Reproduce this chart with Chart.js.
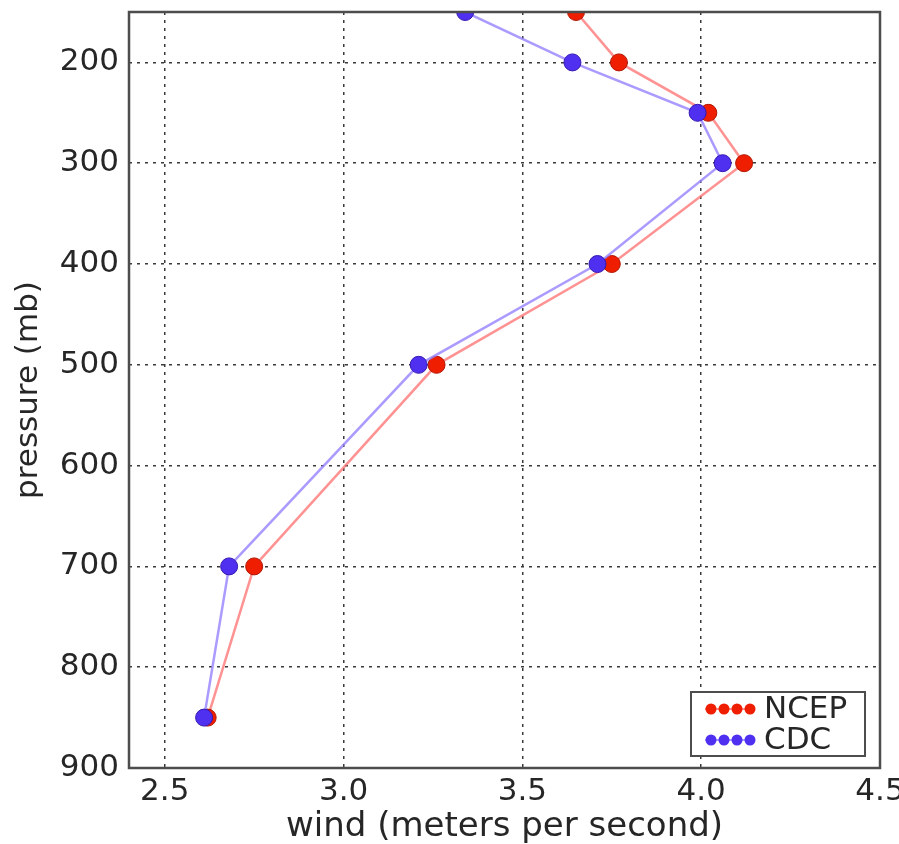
<!DOCTYPE html>
<html><head><meta charset="utf-8">
<script src="https://cdn.jsdelivr.net/npm/chart.js@4"></script>
<style>html,body{margin:0;padding:0;background:#fff;} canvas{display:block;}</style>
</head><body>
<canvas id="c" width="899" height="844"></canvas>
<script>
const pressureLevels = [150, 200, 250, 300, 400, 500, 700, 850];
const ncepWind = [3.65, 3.77, 4.02, 4.12, 3.75, 3.26, 2.75, 2.62];
const cdcWind  = [3.34, 3.64, 3.99, 4.06, 3.71, 3.21, 2.68, 2.61];
const xTickValues = [2.5, 3.0, 3.5, 4.0, 4.5];
const yTickValues = [200, 300, 400, 500, 600, 700, 800, 900];
const seriesNames = ['NCEP', 'CDC'];

const FONT = "'DejaVu Sans', 'Bitstream Vera Sans', sans-serif";
const TXT = '#262626';

const toPoints = (xs) => xs.map((v, i) => ({x: v, y: pressureLevels[i]}));

const framePlugin = {
  id: 'frame',
  afterDatasetsDraw(chart) {
    const {ctx, chartArea: a} = chart;
    ctx.save();
    ctx.strokeStyle = '#4d4d4d';
    ctx.lineWidth = 2.5;
    ctx.strokeRect(a.left, a.top, a.right - a.left, a.bottom - a.top);
    ctx.restore();
  }
};

const legendPlugin = {
  id: 'boxLegend',
  afterDraw(chart) {
    const {ctx, chartArea: a} = chart;
    const w = 174, h = 64;
    const x0 = a.right - 15 - w, y0 = a.bottom - 12 - h;
    ctx.save();
    ctx.fillStyle = '#fff';
    ctx.fillRect(x0, y0, w, h);
    ctx.strokeStyle = '#4d4d4d';
    ctx.lineWidth = 2;
    ctx.strokeRect(x0, y0, w, h);
    chart.data.datasets.forEach((ds, i) => {
      const cy = y0 + 17 + i * 31;
      ctx.strokeStyle = ds.borderColor;
      ctx.lineWidth = 2;
      ctx.beginPath(); ctx.moveTo(x0 + 14, cy); ctx.lineTo(x0 + 64, cy); ctx.stroke();
      for (let k = 0; k < 4; k++) {
        ctx.beginPath();
        ctx.arc(x0 + 20 + k * 13, cy, 5.5, 0, Math.PI * 2);
        ctx.fillStyle = ds.pointBackgroundColor;
        ctx.fill();
      }
      ctx.fillStyle = TXT;
      ctx.font = '31px ' + FONT;
      ctx.textBaseline = 'middle';
      ctx.textAlign = 'left';
      ctx.fillText(ds.label, x0 + 73, cy + 1);
    });
    ctx.restore();
  }
};

new Chart(document.getElementById('c'), {
  type: 'scatter',
  data: {
    datasets: [
      {
        label: seriesNames[0],
        data: toPoints(ncepWind),
        showLine: true,
        borderColor: 'rgba(255,110,110,0.75)',
        borderWidth: 2.5,
        pointRadius: 8.5,
        pointBackgroundColor: '#f01e00',
        pointBorderColor: '#b01500',
        pointBorderWidth: 1,
        order: 2,
        clip: 0
      },
      {
        label: seriesNames[1],
        data: toPoints(cdcWind),
        showLine: true,
        borderColor: 'rgba(150,130,255,0.8)',
        borderWidth: 2.5,
        pointRadius: 8.5,
        pointBackgroundColor: '#5030f0',
        pointBorderColor: '#3518b0',
        pointBorderWidth: 1,
        order: 1,
        clip: 0
      }
    ]
  },
  options: {
    responsive: false,
    animation: false,
    layout: {padding: {top: 12, right: 19, left: 0, bottom: 0}},
    plugins: {legend: {display: false}, tooltip: {enabled: false}},
    scales: {
      x: {
        type: 'linear',
        min: 2.4, max: 4.5,
        afterBuildTicks: (s) => { s.ticks = xTickValues.map(v => ({value: v})); },
        afterFit: (s) => { s.height = 76; s.paddingLeft = 0; s.paddingRight = 0; },
        ticks: {
          color: TXT, padding: 5, maxRotation: 0,
          font: {family: FONT, size: 31},
          callback: (v) => Number(v).toFixed(1)
        },
        grid: {color: '#3a3a3a', lineWidth: 1.5, drawTicks: false},
        border: {display: false, dash: [3, 5]},
        title: {display: true, text: 'wind (meters per second)', color: TXT,
          font: {family: FONT, size: 34, lineHeight: 1.0}, padding: {top: 0, bottom: 0}}
      },
      y: {
        type: 'linear',
        reverse: true,
        min: 150, max: 900,
        afterBuildTicks: (s) => { s.ticks = yTickValues.map(v => ({value: v})); },
        afterFit: (s) => { s.width = 129; s.paddingTop = 0; s.paddingBottom = 0; },
        ticks: {
          color: TXT, padding: 10,
          font: {family: FONT, size: 31},
          callback: (v) => String(v)
        },
        grid: {color: '#3a3a3a', lineWidth: 1.5, drawTicks: false},
        border: {display: false, dash: [3, 5]},
        title: {display: true, text: 'pressure (mb)', color: TXT,
          font: {family: FONT, size: 31, lineHeight: 1.0}, padding: {top: 13, bottom: 0}}
      }
    }
  },
  plugins: [framePlugin, legendPlugin]
});
</script>
</body></html>
